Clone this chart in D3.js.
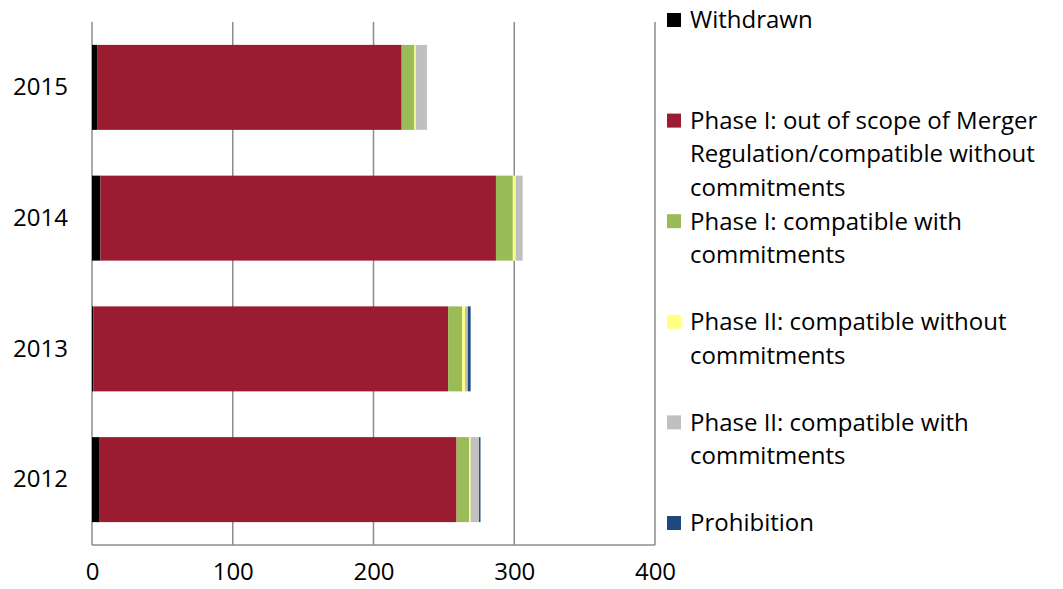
<!DOCTYPE html>
<html>
<head>
<meta charset="utf-8">
<script src="https://cdn.jsdelivr.net/npm/d3@7"></script>
<style>
  body { margin: 0; background: #fff; }
  text { font-family: "Open Sans", Lato, sans-serif; fill: #000; }
</style>
</head>
<body>
<div id="chart"></div>
<script>
// data
const years = ['2015', '2014', '2013', '2012'];
const withdrawn = [4, 6, 1, 5];
const phase1NoCommit = [216, 281, 252, 254];
const phase1Commit = [9, 12, 10, 9];
const phase2NoCommit = [1, 2, 2, 1];
const phase2Commit = [8, 5, 2, 6];
const prohibition = [0, 0, 2, 1];
const xTicks = [0, 100, 200, 300, 400];

const seriesNames = ['Withdrawn',
  'Phase I: out of scope of Merger Regulation/compatible without commitments',
  'Phase I: compatible with commitments',
  'Phase II: compatible without commitments',
  'Phase II: compatible with commitments',
  'Prohibition'];
const legendLines = [
  ['Withdrawn'],
  ['Phase I: out of scope of Merger', 'Regulation/compatible without', 'commitments'],
  ['Phase I: compatible with', 'commitments'],
  ['Phase II: compatible without', 'commitments'],
  ['Phase II: compatible with', 'commitments'],
  ['Prohibition']
];
const colors = ['#000000', '#9B1B30', '#9BBB59', '#FFFF80', '#C0C0C0', '#1F497D'];

const width = 1063, height = 589;
const mLeft = 92, mRight = 655, mTop = 22, mBottom = 545;

const rows = years.map((y, i) => {
  const r = { year: y };
  [withdrawn, phase1NoCommit, phase1Commit, phase2NoCommit, phase2Commit, prohibition]
    .forEach((arr, k) => r[seriesNames[k]] = arr[i]);
  return r;
});
const stacked = d3.stack().keys(seriesNames)(rows);

const svg = d3.select('#chart').append('svg')
  .attr('width', width).attr('height', height);

const x = d3.scaleLinear().domain([0, 400]).range([mLeft, mRight]);
const y = d3.scaleBand().domain(years).range([mTop, mBottom]).paddingInner(0.35).paddingOuter(0.175);

// gridlines
svg.append('g').selectAll('line')
  .data(xTicks)
  .enter().append('line')
    .attr('x1', d => x(d)).attr('x2', d => x(d))
    .attr('y1', mTop).attr('y2', mBottom)
    .attr('stroke', '#8c8c8c').attr('stroke-width', 1.5);
svg.append('line')
  .attr('x1', mLeft).attr('x2', mRight).attr('y1', mBottom).attr('y2', mBottom)
  .attr('stroke', '#8c8c8c').attr('stroke-width', 1.5);

// bars
svg.append('g').selectAll('g')
  .data(stacked)
  .enter().append('g')
    .attr('fill', (d, i) => colors[i])
  .selectAll('rect')
  .data(d => d)
  .enter().append('rect')
    .attr('x', d => x(d[0]))
    .attr('width', d => x(d[1]) - x(d[0]))
    .attr('y', d => y(d.data.year))
    .attr('height', y.bandwidth());

// axes labels
const xAxis = svg.append('g')
  .attr('transform', `translate(0,${mBottom})`)
  .call(d3.axisBottom(x).tickValues(xTicks).tickSize(0).tickPadding(18));
xAxis.select('.domain').remove();
xAxis.selectAll('text').style('font-size', '24px').attr('fill', '#000');

const yAxis = svg.append('g')
  .attr('transform', `translate(${mLeft},0)`)
  .call(d3.axisLeft(y).tickSize(0).tickPadding(24));
yAxis.select('.domain').remove();
yAxis.selectAll('text').style('font-size', '24px').attr('fill', '#000');

// legend
const legendTop = 20, legendStep = 100.6, lineH = 33.5;
const leg = svg.append('g').selectAll('g')
  .data(legendLines)
  .enter().append('g')
    .attr('transform', (d, i) => `translate(667,${legendTop + i * legendStep})`);
leg.append('rect')
  .attr('x', 0).attr('y', -7).attr('width', 14).attr('height', 14)
  .attr('fill', (d, i) => colors[i]);
leg.append('text')
  .attr('x', 23)
  .style('font-size', '24px')
  .selectAll('tspan')
  .data(d => d)
  .enter().append('tspan')
    .attr('x', 23)
    .attr('y', (d, i) => i * lineH)
    .attr('dy', '0.35em')
    .text(d => d);
</script>
</body>
</html>
